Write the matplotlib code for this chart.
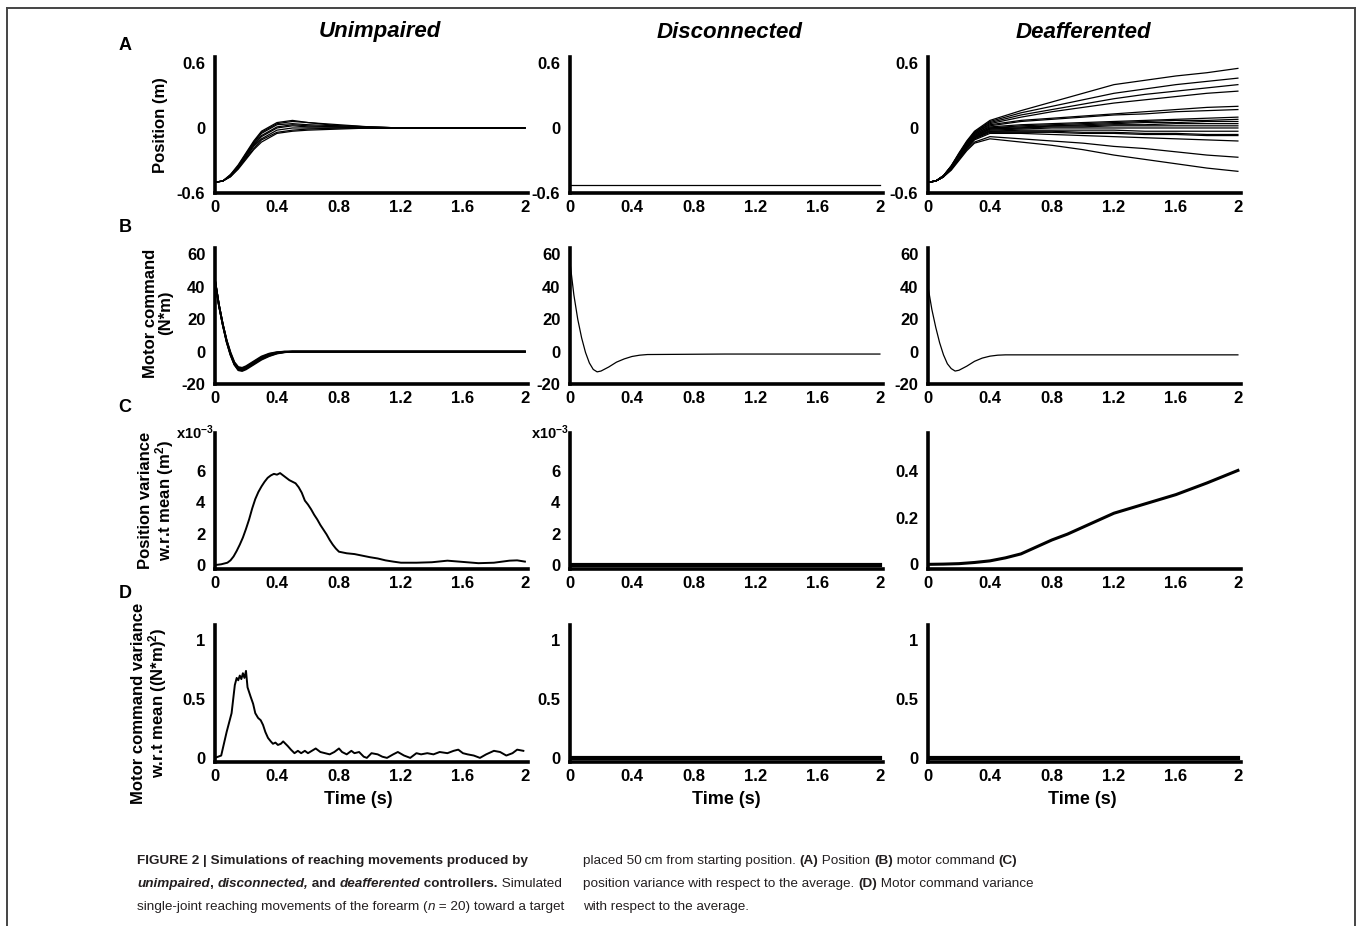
import matplotlib
matplotlib.use('Agg')
import matplotlib.pyplot as plt
from matplotlib.lines import Line2D

plt.rcParams['font.family'] = ['Liberation Sans', 'DejaVu Sans']
plt.rcParams['mathtext.fontset'] = 'custom'
plt.rcParams['mathtext.rm'] = 'Liberation Sans:bold'
plt.rcParams['mathtext.bf'] = 'Liberation Sans:bold'
plt.rcParams['mathtext.it'] = 'Liberation Sans:bold:italic'

# ---------------- data ----------------
COLUMN_TITLES = ['Unimpaired', 'Disconnected', 'Deafferented']
PANEL_LETTERS = ['A', 'B', 'C', 'D']
X_TICKS = [0, 0.4, 0.8, 1.2, 1.6, 2]
X_TICK_LABELS = ['0', '0.4', '0.8', '1.2', '1.6', '2']
POS_TICKS = [-0.6, 0, 0.6]
POS_TICK_LABELS = ['-0.6', '0', '0.6']
CMD_TICKS = [-20, 0, 20, 40, 60]
PVAR_SMALL_TICKS = [0, 2, 4, 6]           # x10^-3
PVAR_DEAFF_TICKS = [0, 0.2, 0.4]
PVAR_DEAFF_LABELS = ['0', '0.2', '0.4']
CVAR_TICKS = [0, 0.5, 1]
CVAR_TICK_LABELS = ['0', '0.5', '1']

# A - Unimpaired position traces
T_POS_U = [0, 0.05, 0.1, 0.15, 0.2, 0.25, 0.3, 0.4, 0.5, 0.6, 0.8, 1.0, 1.2, 1.6, 2.0]
POS_UNIMPAIRED = [
    [-0.5, -0.49, -0.45, -0.38, -0.29, -0.20, -0.13, -0.05, -0.03, -0.02, -0.01, 0.0, 0.0, 0.0, 0.0],
    [-0.5, -0.49, -0.45, -0.37, -0.28, -0.19, -0.11, -0.04, -0.02, -0.01, 0.0, 0.0, 0.0, 0.0, 0.0],
    [-0.5, -0.49, -0.44, -0.37, -0.27, -0.17, -0.10, -0.02, 0.0, 0.0, 0.0, 0.0, 0.0, 0.0, 0.0],
    [-0.5, -0.49, -0.44, -0.36, -0.26, -0.16, -0.08, 0.0, 0.02, 0.01, 0.01, 0.0, 0.0, 0.0, 0.0],
    [-0.5, -0.49, -0.44, -0.36, -0.25, -0.15, -0.07, 0.01, 0.03, 0.02, 0.01, 0.0, 0.0, 0.0, 0.0],
    [-0.5, -0.49, -0.44, -0.35, -0.24, -0.14, -0.05, 0.03, 0.04, 0.03, 0.02, 0.01, 0.0, 0.0, 0.0],
    [-0.5, -0.49, -0.43, -0.35, -0.24, -0.13, -0.04, 0.04, 0.06, 0.05, 0.02, 0.01, 0.0, 0.0, 0.0],
    [-0.5, -0.49, -0.43, -0.34, -0.23, -0.12, -0.03, 0.05, 0.07, 0.05, 0.03, 0.01, 0.0, 0.0, 0.0],
]
# A - Disconnected position (arm does not move)
T_POS_DISC = [0, 2.0]
POS_DISCONNECTED = [-0.53, -0.53]
# A - Deafferented position traces
T_POS_D = [0, 0.05, 0.1, 0.15, 0.2, 0.25, 0.3, 0.4, 0.6, 0.8, 1.0, 1.2, 1.4, 1.6, 1.8, 2.0]
POS_DEAFFERENTED = [
    [-0.5, -0.49, -0.44, -0.35, -0.23, -0.12, -0.03, 0.07, 0.16, 0.24, 0.32, 0.40, 0.44, 0.48, 0.51, 0.55],
    [-0.5, -0.49, -0.44, -0.35, -0.24, -0.13, -0.04, 0.06, 0.14, 0.20, 0.26, 0.32, 0.36, 0.40, 0.43, 0.46],
    [-0.5, -0.49, -0.44, -0.35, -0.24, -0.13, -0.04, 0.05, 0.12, 0.17, 0.22, 0.27, 0.31, 0.34, 0.37, 0.40],
    [-0.5, -0.49, -0.44, -0.36, -0.24, -0.14, -0.05, 0.04, 0.10, 0.15, 0.19, 0.23, 0.26, 0.29, 0.32, 0.34],
    [-0.5, -0.49, -0.44, -0.36, -0.25, -0.14, -0.05, 0.03, 0.07, 0.09, 0.11, 0.13, 0.15, 0.17, 0.19, 0.20],
    [-0.5, -0.49, -0.44, -0.36, -0.25, -0.15, -0.06, 0.02, 0.06, 0.08, 0.10, 0.12, 0.13, 0.15, 0.16, 0.17],
    [-0.5, -0.49, -0.45, -0.36, -0.25, -0.15, -0.06, 0.01, 0.03, 0.04, 0.05, 0.06, 0.07, 0.08, 0.09, 0.10],
    [-0.5, -0.49, -0.45, -0.37, -0.26, -0.15, -0.07, 0.00, 0.02, 0.03, 0.04, 0.05, 0.06, 0.07, 0.07, 0.08],
    [-0.5, -0.49, -0.45, -0.37, -0.26, -0.16, -0.07, 0.00, 0.01, 0.02, 0.02, 0.03, 0.03, 0.04, 0.04, 0.04],
    [-0.5, -0.49, -0.45, -0.37, -0.26, -0.16, -0.08, -0.01, 0.0, 0.01, 0.01, 0.02, 0.02, 0.02, 0.02, 0.02],
    [-0.5, -0.49, -0.45, -0.37, -0.27, -0.16, -0.08, -0.01, 0.0, 0.02, 0.03, 0.04, 0.05, 0.05, 0.06, 0.06],
    [-0.5, -0.49, -0.45, -0.37, -0.27, -0.17, -0.09, -0.02, -0.01, 0.0, 0.0, 0.0, 0.0, 0.0, 0.0, 0.0],
    [-0.5, -0.49, -0.45, -0.38, -0.27, -0.17, -0.09, -0.03, -0.02, -0.02, -0.02, -0.02, -0.03, -0.03, -0.03, -0.03],
    [-0.5, -0.49, -0.45, -0.38, -0.28, -0.18, -0.10, -0.03, -0.03, -0.03, -0.04, -0.04, -0.05, -0.05, -0.06, -0.06],
    [-0.5, -0.49, -0.45, -0.38, -0.28, -0.18, -0.10, -0.04, -0.04, -0.04, -0.05, -0.05, -0.06, -0.06, -0.07, -0.07],
    [-0.5, -0.49, -0.45, -0.38, -0.28, -0.19, -0.11, -0.05, -0.05, -0.06, -0.07, -0.08, -0.09, -0.10, -0.11, -0.12],
    [-0.5, -0.49, -0.45, -0.38, -0.29, -0.20, -0.13, -0.08, -0.10, -0.12, -0.14, -0.17, -0.19, -0.22, -0.25, -0.27],
    [-0.5, -0.49, -0.45, -0.39, -0.30, -0.21, -0.14, -0.10, -0.13, -0.16, -0.20, -0.25, -0.29, -0.33, -0.37, -0.40],
]

# B - Motor command
T_CMD = [0, 0.025, 0.05, 0.075, 0.1, 0.125, 0.15, 0.175, 0.2, 0.25, 0.3, 0.35, 0.4, 0.45, 0.5, 1.0, 1.5, 2.0]
CMD_UNIMPAIRED = [
    [44, 29, 17, 7, -1, -7, -10, -10.5, -9.5, -6.5, -3.5, -1.5, -0.5, 0, 0, 0, 0, 0],
    [44, 29, 17, 6.5, -1.5, -7.5, -10.5, -11, -10, -7, -4, -2, -0.8, -0.2, 0, 0, 0, 0],
    [44, 29, 16.5, 6, -2, -8, -11, -11.5, -10.5, -7.5, -4.5, -2.5, -1, -0.3, 0, 0, 0, 0],
    [44, 29, 17, 7, -0.5, -6.5, -9.5, -10, -9, -6, -3, -1.2, -0.3, 0, 0, 0, 0, 0],
    [44, 28.5, 16.5, 6, -2, -8, -11.5, -12, -11, -8, -5, -2.8, -1.2, -0.4, 0, 0, 0, 0],
]
CMD_DISCONNECTED = [55, 35, 20, 8.5, -0.5, -7, -11, -12.5, -12, -9.5, -6.5, -4.5, -3, -2.2, -1.8, -1.5, -1.5, -1.5]
CMD_DEAFFERENTED = [40, 26, 15, 5.5, -2, -7.5, -10.5, -12, -11.5, -9, -6, -4, -2.8, -2.2, -2, -2, -2, -2]

# C - Position variance
T_PVAR_U = [0, 0.04, 0.08, 0.1, 0.12, 0.14, 0.16, 0.18, 0.2, 0.22, 0.24, 0.26, 0.28, 0.3, 0.32, 0.34,
            0.36, 0.38, 0.4, 0.42, 0.44, 0.46, 0.48, 0.5, 0.52, 0.54, 0.56, 0.58, 0.6, 0.62, 0.64, 0.66,
            0.68, 0.7, 0.72, 0.74, 0.76, 0.78, 0.8, 0.85, 0.9, 0.95, 1.0, 1.05, 1.1, 1.15, 1.2, 1.3, 1.4,
            1.5, 1.6, 1.7, 1.8, 1.9, 1.95, 2.0]
PVAR_UNIMPAIRED = [0.0, 0.05, 0.15, 0.3, 0.55, 0.9, 1.3, 1.75, 2.3, 2.9, 3.6, 4.2, 4.65, 5.0, 5.3, 5.55,
                   5.7, 5.8, 5.75, 5.85, 5.7, 5.55, 5.4, 5.3, 5.2, 4.95, 4.6, 4.1, 3.85, 3.55, 3.2, 2.9,
                   2.55, 2.25, 1.95, 1.6, 1.3, 1.05, 0.85, 0.75, 0.7, 0.6, 0.5, 0.42, 0.3, 0.22, 0.15, 0.15,
                   0.18, 0.28, 0.2, 0.12, 0.15, 0.28, 0.3, 0.22]          # x10^-3
T_FLAT = [0, 2.0]
PVAR_DISCONNECTED = [0.0, 0.0]
T_PVAR_D = [0, 0.1, 0.2, 0.3, 0.4, 0.5, 0.6, 0.7, 0.8, 0.9, 1.0, 1.1, 1.2, 1.3, 1.4, 1.6, 1.8, 2.0]
PVAR_DEAFFERENTED = [0, 0.001, 0.003, 0.008, 0.015, 0.028, 0.045, 0.075, 0.105, 0.13, 0.16, 0.19,
                     0.22, 0.24, 0.26, 0.3, 0.35, 0.404]

# D - Motor command variance
T_CVAR_U = [0, 0.04, 0.075, 0.107, 0.128, 0.14, 0.15, 0.16, 0.17, 0.18, 0.19, 0.2, 0.21, 0.23, 0.246,
            0.26, 0.278, 0.295, 0.31, 0.325, 0.342, 0.36, 0.374, 0.39, 0.406, 0.425, 0.44, 0.455, 0.47,
            0.49, 0.513, 0.535, 0.556, 0.58, 0.6, 0.625, 0.65, 0.68, 0.71, 0.74, 0.77, 0.8, 0.82, 0.85,
            0.88, 0.9, 0.93, 0.96, 0.98, 1.01, 1.05, 1.08, 1.11, 1.15, 1.18, 1.22, 1.26, 1.3, 1.33, 1.37,
            1.41, 1.45, 1.5, 1.54, 1.57, 1.6, 1.63, 1.67, 1.71, 1.75, 1.8, 1.84, 1.88, 1.92, 1.95, 1.99]
CVAR_UNIMPAIRED = [0.0, 0.02, 0.22, 0.38, 0.62, 0.68, 0.66, 0.7, 0.67, 0.72, 0.68, 0.74, 0.6, 0.52, 0.46,
                   0.38, 0.34, 0.32, 0.28, 0.22, 0.17, 0.14, 0.12, 0.13, 0.11, 0.12, 0.14, 0.12, 0.1,
                   0.07, 0.04, 0.06, 0.04, 0.06, 0.04, 0.06, 0.08, 0.05, 0.04, 0.03, 0.05, 0.08, 0.05, 0.03,
                   0.06, 0.04, 0.05, 0.01, 0.0, 0.04, 0.03, 0.01, 0.0, 0.03, 0.05, 0.02, 0.0, 0.04, 0.03, 0.04,
                   0.03, 0.05, 0.04, 0.06, 0.07, 0.04, 0.03, 0.02, 0.0, 0.03, 0.06, 0.05, 0.02, 0.04, 0.07, 0.06]
CVAR_DISCONNECTED = [0.0, 0.0]
CVAR_DEAFFERENTED = [0.0, 0.0]

# ---------------- figure ----------------
W, H = 1358, 926
fig = plt.figure(figsize=(W / 100, H / 100), dpi=100)

COL_X = [215, 570, 928]
AX_W = 313
ROW_Y = [(57, 193), (248, 384), (433, 569), (625, 762)]

def make_ax(r, c):
    x0 = COL_X[c]
    y0, y1 = ROW_Y[r]
    ax = fig.add_axes([x0 / W, 1 - y1 / H, AX_W / W, (y1 - y0) / H])
    for s in ['top', 'right']:
        ax.spines[s].set_visible(False)
    for s in ['left', 'bottom']:
        ax.spines[s].set_linewidth(2.6)
        ax.spines[s].set_color('black')
    ax.tick_params(axis='both', length=0, labelsize=12)
    ax.tick_params(axis='y', pad=7)
    ax.tick_params(axis='x', pad=5)
    ax.set_xlim(0, 2.02)
    ax.set_xticks(X_TICKS)
    ax.set_xticklabels(X_TICK_LABELS, fontweight='bold')
    ax.patch.set_visible(False)
    return ax

LW_THIN = 0.9
LW_VAR = 1.4

axes = [[make_ax(r, c) for c in range(3)] for r in range(4)]

# Row A
for c in range(3):
    ax = axes[0][c]
    ax.set_ylim(-0.6, 0.655)
    ax.set_yticks(POS_TICKS)
    ax.set_yticklabels(POS_TICK_LABELS, fontweight='bold')
for tr in POS_UNIMPAIRED:
    axes[0][0].plot(T_POS_U, tr, color='black', lw=LW_THIN)
axes[0][1].plot(T_POS_DISC, POS_DISCONNECTED, color='black', lw=LW_THIN)
for tr in POS_DEAFFERENTED:
    axes[0][2].plot(T_POS_D, tr, color='black', lw=LW_THIN)

# Row B
for c in range(3):
    ax = axes[1][c]
    ax.set_ylim(-20, 64)
    ax.set_yticks(CMD_TICKS)
    ax.set_yticklabels([str(v) for v in CMD_TICKS], fontweight='bold')
for tr in CMD_UNIMPAIRED:
    axes[1][0].plot(T_CMD, tr, color='black', lw=1.3)
axes[1][1].plot(T_CMD, CMD_DISCONNECTED, color='black', lw=LW_THIN)
axes[1][2].plot(T_CMD, CMD_DEAFFERENTED, color='black', lw=LW_THIN)

# Row C
for c in range(2):
    ax = axes[2][c]
    ax.set_ylim(-0.25, 8.4)
    ax.set_yticks(PVAR_SMALL_TICKS)
    ax.set_yticklabels([str(v) for v in PVAR_SMALL_TICKS], fontweight='bold')
    ax.text(-0.005, 1.0, r'x10$^{-3}$', transform=ax.transAxes, ha='right', va='center',
            fontsize=10.5, fontweight='bold')
axes[2][0].plot(T_PVAR_U, PVAR_UNIMPAIRED, color='black', lw=LW_VAR)
axes[2][1].plot(T_FLAT, PVAR_DISCONNECTED, color='black', lw=3.0)
ax = axes[2][2]
ax.set_ylim(-0.02, 0.565)
ax.set_yticks(PVAR_DEAFF_TICKS)
ax.set_yticklabels(PVAR_DEAFF_LABELS, fontweight='bold')
ax.plot(T_PVAR_D, PVAR_DEAFFERENTED, color='black', lw=2.2)

# Row D
for c in range(3):
    ax = axes[3][c]
    ax.set_ylim(-0.035, 1.13)
    ax.set_yticks(CVAR_TICKS)
    ax.set_yticklabels(CVAR_TICK_LABELS, fontweight='bold')
axes[3][0].plot(T_CVAR_U, CVAR_UNIMPAIRED, color='black', lw=LW_VAR)
axes[3][1].plot(T_FLAT, CVAR_DISCONNECTED, color='black', lw=3.0)
axes[3][2].plot(T_FLAT, CVAR_DEAFFERENTED, color='black', lw=3.0)

# Column titles
TITLE_X = [380, 730, 1083]
for c, t in enumerate(COLUMN_TITLES):
    fig.text(TITLE_X[c] / W, 1 - 32 / H, t, ha='center', va='center', fontsize=16,
             fontweight='bold', fontstyle='italic')

# Panel letters
LETTER_Y = [45, 227, 408, 593]
for r, L in enumerate(PANEL_LETTERS):
    fig.text(125 / W, 1 - LETTER_Y[r] / H, L, ha='center', va='center', fontsize=13, fontweight='bold')

# Y labels
YLABELS = [
    ('Position (m)', 160, 125),
    ('Motor command\n(N*m)', 158, 313),
    ('Position variance\n' + r'w.r.t mean (m$^{2}$)', 157, 500),
    ('Motor command variance\n' + r'w.r.t mean ((N*m)$^{2}$)', 150, 703),
]
for txt, x, y in YLABELS:
    fig.text(x / W, 1 - y / H, txt, rotation=90, ha='center', va='center', fontsize=12,
             fontweight='bold', multialignment='center', linespacing=1.0)

# Time labels
TIME_X = [358, 726, 1082]
for x in TIME_X:
    fig.text(x / W, 1 - 800 / H, 'Time (s)', ha='center', va='center', fontsize=13, fontweight='bold')

# Border
for (xa, ya, xb, yb) in [(7, 8, 1355, 8), (7, 8, 7, 926), (1355, 8, 1355, 926)]:
    fig.add_artist(Line2D([xa / W, xb / W], [1 - ya / H, 1 - yb / H], transform=fig.transFigure,
                          color='#444444', lw=1.4))

# Caption
CAP_FONT = ['Liberation Sans', 'DejaVu Sans']
CAP_SIZE = 9.7
renderer = fig.canvas.get_renderer()

def seg_width(text, weight, style):
    def w(s):
        t = fig.text(0, 0, s, fontsize=CAP_SIZE, fontweight=weight, fontstyle=style, family=CAP_FONT)
        bb = t.get_window_extent(renderer)
        t.remove()
        return bb.width
    return w('|' + text + '|') - w('||')

def rich_line(x_px, y_px, segments):
    x = x_px
    for text, weight, style in segments:
        fig.text(x / W, 1 - y_px / H, text, fontsize=CAP_SIZE, fontweight=weight, fontstyle=style,
                 family=CAP_FONT, ha='left', va='baseline', color='#231f20')
        x += seg_width(text, weight, style)

B, N = 'bold', 'normal'
I, R = 'italic', 'normal'
CAPTION_LEFT = [
    [('FIGURE 2 | Simulations of reaching movements produced by', B, R)],
    [('unimpaired', B, I), (', ', B, R), ('disconnected,', B, I), (' and ', B, R),
     ('deafferented', B, I), (' controllers.', B, R), (' Simulated', N, R)],
    [('single-joint reaching movements of the forearm (', N, R), ('n', N, I),
     (' = 20) toward a target', N, R)],
]
CAPTION_RIGHT = [
    [('placed 50\u2009cm from starting position. ', N, R), ('(A)', B, R), (' Position ', N, R),
     ('(B)', B, R), (' motor command ', N, R), ('(C)', B, R)],
    [('position variance with respect to the average. ', N, R), ('(D)', B, R),
     (' Motor command variance', N, R)],
    [('with respect to the average.', N, R)],
]
LINE_Y = [864, 887, 910]
for i, segs in enumerate(CAPTION_LEFT):
    rich_line(137, LINE_Y[i], segs)
for i, segs in enumerate(CAPTION_RIGHT):
    rich_line(583, LINE_Y[i], segs)

fig.savefig('out.png', dpi=100)
